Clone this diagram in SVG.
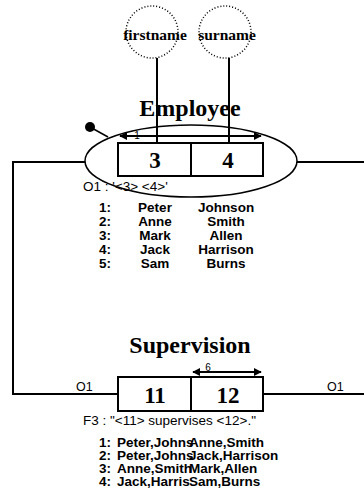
<svg xmlns="http://www.w3.org/2000/svg" width="364" height="492" viewBox="0 0 364 492">
<style>
.ln{stroke:#000;stroke-width:2;fill:none}
.box{stroke:#000;stroke-width:2;fill:#fff}
.dot{stroke:#000;stroke-width:1.5;stroke-dasharray:1 2;fill:#fff}
.title{font-family:"Liberation Serif",serif;font-weight:bold;font-size:24px;text-anchor:middle}
.num{font-family:"Liberation Serif",serif;font-weight:bold;font-size:23px;text-anchor:middle}
.attr{font-family:"Liberation Serif",serif;font-weight:bold;font-size:15.5px;text-anchor:middle}
.lbl{font-family:"Liberation Sans",Arial,sans-serif;font-size:13.5px}
.olbl{font-family:"Liberation Sans",Arial,sans-serif;font-size:12.5px}
.row{font-family:"Liberation Sans",Arial,sans-serif;font-weight:bold;font-size:13.5px}
.sm{font-family:"Liberation Sans",Arial,sans-serif;font-size:10px;text-anchor:middle}
</style>
<defs>
<marker id="ah" viewBox="0 0 10 10" refX="9" refY="5" markerWidth="4" markerHeight="4" orient="auto-start-reverse">
<path d="M0,0L10,5L0,10z" fill="#000"/>
</marker>
</defs>
<g id="connectors">
<line class="ln" x1="157" y1="58" x2="157" y2="143"/>
<line class="ln" x1="229" y1="58" x2="229" y2="143"/>
<polyline class="ln" points="85,162 13,162 13,394 118,394"/>
<line class="ln" x1="297" y1="162" x2="364" y2="162"/>
<line class="ln" x1="263" y1="394" x2="364" y2="394"/>
<line stroke="#000" stroke-width="1.5" x1="90" y1="127" x2="108" y2="137"/>
<circle cx="90" cy="127" r="5" fill="#000"/>
<text class="olbl" x="76" y="391">O1</text>
<text class="olbl" x="327" y="391">O1</text>
</g>
<g id="firstname">
<circle class="dot" cx="152" cy="32" r="26"/>
<text class="attr" x="155" y="40">firstname</text>
</g>
<g id="surname">
<circle class="dot" cx="225" cy="32" r="26"/>
<text class="attr" x="227" y="40">surname</text>
</g>
<g id="employee">
<text class="title" x="190" y="116">Employee</text>
<ellipse cx="191" cy="161" rx="106" ry="36" fill="none" stroke="#000" stroke-width="1.5"/>
<rect class="box" x="118" y="143" width="73" height="33"/>
<rect class="box" x="191" y="143" width="72" height="33"/>
<line class="ln" x1="157" y1="130" x2="157" y2="143"/>
<line class="ln" x1="229" y1="130" x2="229" y2="143"/>
<line class="ln" x1="120" y1="136" x2="261" y2="136" marker-start="url(#ah)" marker-end="url(#ah)"/>
<text class="sm" x="137" y="139">1</text>
<text class="num" x="155" y="168">3</text>
<text class="num" x="228" y="168">4</text>
<text class="lbl" x="83" y="191">O1 : '&lt;3&gt; &lt;4&gt;'</text>
<g class="row">
<text x="99" y="212">1:</text><text x="155" y="212" text-anchor="middle">Peter</text><text x="226" y="212" text-anchor="middle">Johnson</text>
<text x="99" y="226">2:</text><text x="155" y="226" text-anchor="middle">Anne</text><text x="226" y="226" text-anchor="middle">Smith</text>
<text x="99" y="240">3:</text><text x="155" y="240" text-anchor="middle">Mark</text><text x="226" y="240" text-anchor="middle">Allen</text>
<text x="99" y="254">4:</text><text x="155" y="254" text-anchor="middle">Jack</text><text x="226" y="254" text-anchor="middle">Harrison</text>
<text x="99" y="268">5:</text><text x="155" y="268" text-anchor="middle">Sam</text><text x="226" y="268" text-anchor="middle">Burns</text>
</g>
</g>
<g id="supervision">
<text class="title" x="190" y="353">Supervision</text>
<rect class="box" x="118" y="377" width="73" height="34"/>
<rect class="box" x="191" y="377" width="72" height="34"/>
<line class="ln" x1="193" y1="372" x2="261" y2="372" marker-start="url(#ah)" marker-end="url(#ah)"/>
<text class="sm" x="208" y="371">6</text>
<text class="num" x="155" y="403">11</text>
<text class="num" x="228" y="403">12</text>
<text class="lbl" x="83" y="425" font-size="14">F3 : "&lt;11&gt; supervises &lt;12&gt;."</text>
<g class="row">
<text x="99" y="447">1:</text><text x="117" y="447">Peter,Johns</text><text x="189" y="447">Anne,Smith</text>
<text x="99" y="460">2:</text><text x="117" y="460">Peter,Johns</text><text x="189" y="460">Jack,Harrison</text>
<text x="99" y="473">3:</text><text x="117" y="473">Anne,Smith</text><text x="189" y="473">Mark,Allen</text>
<text x="99" y="486">4:</text><text x="117" y="486">Jack,Harris</text><text x="189" y="486">Sam,Burns</text>
</g>
</g>
</svg>
